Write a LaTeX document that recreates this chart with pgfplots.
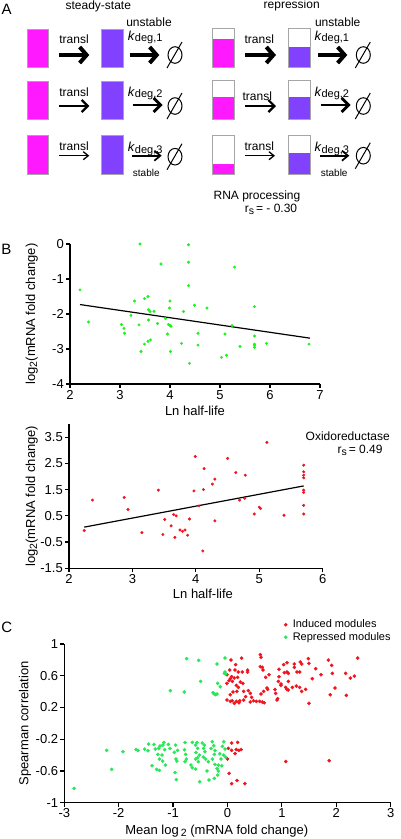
\documentclass[border=0pt]{standalone}
\usepackage{fontspec}
\setmainfont{Liberation Sans}
\usepackage{pgfplots}
\pgfplotsset{compat=1.18}
\usetikzlibrary{arrows.meta}
\definecolor{mag}{RGB}{255,25,255}
\definecolor{pur}{RGB}{130,65,255}
\definecolor{gB}{RGB}{25,245,25}
\definecolor{gC}{RGB}{40,232,90}
\definecolor{rr}{RGB}{240,20,30}
\pgfplotsset{prism/.style={
  scale only axis, axis lines=left, axis line style={-,line width=1.2pt},
  tick align=outside, major tick length=4pt, tick style={black,line width=1.2pt},
  tick label style={font=\fontsize{13}{14}\selectfont, inner sep=2pt},
  clip=false,
}}
\newcommand{\sub}[1]{\raisebox{-2pt}{\fontsize{10.5}{11}\selectfont #1}}
\newcommand{\rbox}[6]{\fill[#6] (#1,#5) rectangle (#2,#4);\draw[gray!70,line width=0.6pt] (#1,#3) rectangle (#2,#4);}
\newcommand{\emptys}[2]{\draw[line width=1pt] (#1,#2) ellipse (7 and 8.3);\draw[line width=1pt] (#1-8,#2+13) -- (#1+7,#2-13);}
\newcommand{\kdeg}[1]{\fontsize{13}{13}\selectfont\textit{k}\raisebox{-1.5pt}{\fontsize{11}{11}\selectfont deg,#1}}
\begin{document}
\begin{tikzpicture}
\useasboundingbox (0pt,0pt) rectangle (401pt,-839pt);
\begin{scope}[x=1pt,y=-1pt,font=\fontsize{12}{13}\selectfont]
\tikzset{
 aA/.style={line width=4pt,-{Straight Barb[length=7pt,width=16pt]}},
 aB/.style={line width=2.2pt,-{Straight Barb[length=6pt,width=12pt]}},
 aC/.style={line width=1.3pt,-{Straight Barb[length=5pt,width=8pt]}},
 aD/.style={line width=2.8pt,-{Straight Barb[length=7pt,width=14pt]}},
 aE/.style={line width=1.7pt,-{Straight Barb[length=6pt,width=10pt]}},
}
\node[font=\fontsize{15}{15}\selectfont] at (6.7,9.7) {A};
\node[font=\fontsize{15}{15}\selectfont] at (6.3,249.3) {B};
\node[font=\fontsize{15}{15}\selectfont] at (6.7,627.3) {C};
\node[anchor=base] at (98.3,9.5) {steady-state};
\node[anchor=base,text height=6.5pt,inner ysep=0pt] at (291.7,8.5) {repression};
% steady-state boxes
\rbox{27.3}{48.7}{29}{67.7}{29}{mag}
\rbox{27.3}{48.7}{81}{119.3}{81}{mag}
\rbox{27.3}{48.7}{135.7}{174.3}{135.7}{mag}
\rbox{101.7}{123.3}{29}{67.7}{29}{pur}
\rbox{101.7}{123.3}{81}{119.3}{81}{pur}
\rbox{101.7}{123.3}{135.7}{174.3}{135.7}{pur}
% repression boxes
\rbox{212.7}{234.3}{28.3}{67.7}{39.3}{mag}
\rbox{212.7}{234.3}{80}{119}{97.3}{mag}
\rbox{212.7}{234.3}{135}{174.3}{164}{mag}
\rbox{288.3}{310}{28.3}{67.7}{46.7}{pur}
\rbox{288.3}{310}{80}{119}{97.3}{pur}
\rbox{288.3}{310}{135}{174.3}{153.3}{pur}
% transl arrows
\draw[aA] (59.3,55) -- (89.3,55);
\draw[aB] (59.3,106) -- (89.3,106);
\draw[aC] (59.3,155.7) -- (89.3,155.7);
\draw[aA] (245,55) -- (276,55);
\draw[aB] (245,106) -- (276,106);
\draw[aC] (245,155.7) -- (275,155.7);
\node[anchor=base] at (74,43.3) {transl};
\node[anchor=base] at (74,96.7) {transl};
\node[anchor=base] at (74,150.7) {transl};
\node[anchor=base] at (259.3,43.3) {transl};
\node[anchor=base] at (257.3,100) {transl};
\node[anchor=base] at (259.3,150.7) {transl};
% degradation arrows
\draw[aA] (130,55) -- (159.3,55);
\draw[aD] (132.7,105) -- (162.7,105);
\draw[aE] (132,155.7) -- (161.7,155.7);
\draw[aA] (318.3,55) -- (347.3,55);
\draw[aD] (320.7,105) -- (350.7,105);
\draw[aE] (320,155.7) -- (349.3,155.7);
\node[anchor=base] at (149,26) {unstable};
\node[anchor=base] at (337.7,26) {unstable};
\node[anchor=base west,inner sep=0pt] at (127.7,40) {\kdeg{1}};
\node[anchor=base west,inner sep=0pt] at (127.7,96) {\kdeg{2}};
\node[anchor=base west,inner sep=0pt] at (127.7,151.7) {\kdeg{3}};
\node[anchor=base west,inner sep=0pt] at (314.3,40) {\kdeg{1}};
\node[anchor=base west,inner sep=0pt] at (314.3,96) {\kdeg{2}};
\node[anchor=base west,inner sep=0pt] at (314.3,151.7) {\kdeg{3}};
\node[anchor=base,font=\fontsize{10}{11}\selectfont] at (146.3,176.7) {stable};
\node[anchor=base,font=\fontsize{10}{11}\selectfont] at (334.2,176.7) {stable};
\emptys{175}{55}
\emptys{175}{106}
\emptys{175}{156.7}
\emptys{363.3}{55}
\emptys{363.3}{106}
\emptys{363.3}{155.7}
\node[anchor=base] at (257,199) {RNA processing};
\node[anchor=base] at (271,212.7) {r\sub{s}\,= - 0.30};
\node[anchor=base] at (347.7,440) {Oxidoreductase};
\node[anchor=base] at (360,453.3) {r\sub{s}\,= 0.49};
\end{scope}

% ---------- B1 ----------
\begin{axis}[prism, at={(70pt,-384pt)}, anchor=south west,
  width=250pt, height=140pt, xmin=2, xmax=7, ymin=-4, ymax=0,
  xtick={2,3,4,5,6,7}, xticklabels={2,3,4,5,6,7},
  ytick={-4,-3,-2,-1,0}, yticklabels={-4,-3,-2,-1,0},
  xlabel={Ln half-life}, ylabel={log\sub{2}(mRNA fold change)},
  every axis x label/.style={at={(axis description cs:0.5,-0.193)},anchor=center,font=\fontsize{13}{14}\selectfont},
  every axis y label/.style={at={(axis description cs:-0.153,0.5)},anchor=center,rotate=90,font=\fontsize{13}{14}\selectfont},
]
\addplot[only marks, mark=*, mark size=1.3pt, color=gB] coordinates {
(2.2,-1.31)(2.37,-2.23)(3.03,-2.30)(3.08,-2.41)(3.09,-2.55)(3.22,-2.04)(3.29,-1.63)
(3.38,-2.31)(3.42,-3.07)(3.49,-2.86)(3.49,-1.56)(3.56,-1.50)(3.56,-2.78)(3.57,-2.17)
(3.57,-1.88)(3.60,-1.93)(3.61,-2.74)(3.68,-1.92)(3.75,-2.27)(3.82,-0.57)(3.91,-2.13)
(3.95,-2.57)(3.97,-2.30)(4.0,-1.63)(3.99,-1.83)(4.0,-2.33)(4.01,-3.07)(4.02,-2.35)
(4.23,-2.84)(4.27,-1.93)(4.37,-0.52)(4.37,-1.19)(4.39,-3.41)(4.49,-1.75)(4.56,-2.55)
(4.56,-2.89)(4.74,-1.83)(5.03,-3.24)(5.13,-3.18)(5.10,-2.57)(5.24,-2.33)(5.29,-0.66)
(5.40,-2.93)(5.69,-1.79)(5.69,-2.63)(5.69,-2.86)(5.69,-2.89)(5.69,-2.95)(5.93,-2.84)
(6.78,-2.86)(3.40,0.0)(4.37,-0.02)
};
\addplot[black, line width=1.2pt] coordinates {(2.2,-1.73)(6.8,-2.69)};
\end{axis}

% ---------- B2 ----------
\begin{axis}[prism, at={(69pt,-568.3pt)}, anchor=south west,
  width=253.7pt, height=144.3pt, xmin=2, xmax=6, ymin=-1.5, ymax=4,
  xtick={2,3,4,5,6}, xticklabels={2,3,4,5,6},
  ytick={-1.5,-0.5,0.5,1.5,2.5,3.5}, yticklabels={-1.5,-0.5,0.5,1.5,2.5,3.5},
  xlabel={Ln half-life}, ylabel={log\sub{2}(mRNA fold change)},
  every axis x label/.style={at={(axis description cs:0.528,-0.178)},anchor=center,font=\fontsize{13}{14}\selectfont},
  every axis y label/.style={at={(axis description cs:-0.147,0.5)},anchor=center,rotate=90,font=\fontsize{13}{14}\selectfont},
]
\addplot[only marks, mark=*, mark size=1.3pt, color=rr] coordinates {
(2.24,-0.06)(2.37,1.10)(2.87,1.20)(2.93,0.74)(3.15,-0.14)(3.41,1.48)(3.48,-0.21)
(3.51,0.36)(3.61,0.12)(3.65,0.55)(3.67,-0.32)(3.69,0.50)(3.75,-0.04)(3.79,-0.09)
(3.83,-0.04)(3.87,-0.24)(3.90,0.38)(3.97,1.45)(3.99,2.76)(4.05,0.88)(4.11,-0.84)
(4.12,1.50)(4.13,2.30)(4.26,1.71)(4.30,1.90)(4.30,0.31)(4.50,2.69)(4.63,2.15)
(4.69,1.10)(4.77,1.17)(4.78,2.05)(4.92,0.57)(5.00,0.83)(5.02,0.78)(5.12,3.30)
(5.39,0.52)(5.70,2.43)(5.70,2.18)(5.70,2.05)(5.70,1.95)(5.70,1.48)(5.70,1.39)
(5.70,0.90)(5.70,0.57)
};
\addplot[black, line width=1.2pt] coordinates {(2.24,0.07)(5.70,1.64)};
\end{axis}

% ---------- C ----------
\begin{axis}[prism, at={(64.3pt,-802.7pt)}, anchor=south west,
  width=326.4pt, height=158.7pt, xmin=-3, xmax=3, ymin=-1, ymax=1,
  xtick={-3,-2,-1,0,1,2,3}, xticklabels={-3,-2,-1,0,1,2,3},
  ytick={-1,-0.6,-0.2,0.2,0.6,1}, yticklabels={-1,-0.6,-0.2,0.2,0.6,1},
  xlabel={Mean log\,\sub{2} (mRNA fold change)}, ylabel={Spearman correlation},
  every axis x label/.style={at={(axis description cs:0.467,-0.176)},anchor=center,font=\fontsize{13}{14}\selectfont},
  every axis y label/.style={at={(axis description cs:-0.12,0.5)},anchor=center,rotate=90,font=\fontsize{13}{14}\selectfont},
  legend style={draw=none, fill=none, at={(axis description cs:0.673,1.165)}, anchor=north west,
    font=\fontsize{11}{12}\selectfont, row sep=-1pt, inner sep=0pt, nodes={inner xsep=2pt}},
  legend cell align=left,
  legend image code/.code={\draw[#1] plot coordinates {(0pt,0pt)}; \path[draw=none,fill=none] (-1.6pt,-1pt) rectangle (5pt,1pt);},
]
\addplot[only marks, mark=*, mark size=1.6pt, color=rr] coordinates {
(0.064,0.798)(0.26,0.823)(0.15,0.74)(0.04,0.672)(0.137,0.672)(0.199,0.647)(0.272,0.647)
(0.37,0.672)(0.37,0.647)(-0.01,0.613)(0.076,0.588)(0.125,0.571)(0.052,0.563)(0.187,0.58)
(0.027,0.538)(0.088,0.529)(0.236,0.521)(0.284,0.504)(-0.01,0.504)(0.162,0.479)(0.199,0.453)
(0.383,0.412)(0.101,0.395)(0.174,0.403)(0.297,0.403)(0.42,0.378)(0.052,0.361)(0.333,0.336)
(0.444,0.327)(-0.01,0.294)(0.052,0.277)(0.088,0.285)(0.162,0.277)(0.224,0.285)(0.297,0.294)
(0.125,0.252)(0.211,0.26)(0.42,0.269)(0.48,0.285)
(0.604,0.866)(0.616,0.832)(0.604,0.714)(0.64,0.706)(0.653,0.672)(0.763,0.613)(0.702,0.58)
(0.947,0.681)(1.032,0.74)(1.094,0.765)(1.045,0.639)(1.094,0.647)(1.118,0.63)(0.947,0.588)
(0.934,0.529)(0.983,0.496)(1.118,0.529)(1.229,0.748)(1.229,0.706)(1.339,0.773)(1.364,0.748)
(1.278,0.647)(1.327,0.647)(1.486,0.815)(1.498,0.756)(1.621,0.689)(1.559,0.563)(1.719,0.613)
(1.854,0.798)(1.915,0.731)(1.927,0.63)(2.172,0.63)(2.258,0.571)(2.332,0.596)(2.393,0.823)
(1.976,0.445)(1.89,0.361)(2.184,0.353)(1.498,0.252)(0.726,0.445)(0.738,0.428)(0.665,0.403)
(0.616,0.37)(0.591,0.277)(0.53,0.277)(0.64,0.269)(0.677,0.26)(0.922,0.311)(0.983,0.479)
(1.069,0.453)(1.094,0.428)(1.118,0.42)(1.192,0.453)(1.265,0.47)(1.327,0.453)(1.364,0.403)
(1.437,0.428)(0.873,0.428)(0.886,0.378)(0.91,0.294)
(0.077,-0.248)(0.187,-0.24)(0.015,-0.315)(0.077,-0.34)(0.16,-0.33)(0.21,-0.34)(0.25,-0.33)
(0.14,-0.38)(0.0,-0.45)(0.03,-0.63)(0.175,-0.72)(0.077,-0.76)(0.32,-0.76)(1.07,-0.48)(1.87,-0.47)
};
\addlegendentry{Induced modules}
\addplot[only marks, mark=*, mark size=1.6pt, color=gC] coordinates {
(-0.751,0.815)(-0.53,0.794)(-0.193,0.748)(-0.046,0.823)(-0.494,0.529)(-1.051,0.412)
(-0.794,0.395)(-0.181,0.504)(-0.132,0.462)(-0.267,0.386)(-0.242,0.37)(-0.218,0.361)
(-0.193,0.37)(-0.046,0.647)(-0.034,0.622)(-0.058,0.63)
(-2.82,-0.82)(-2.221,-0.341)(-2.129,-0.58)(-1.921,-0.358)(-1.682,-0.328)(-1.645,-0.341)
(-1.523,-0.324)(-1.449,-0.261)(-1.461,-0.345)(-1.351,-0.265)(-1.327,-0.324)(-1.241,-0.286)
(-1.265,-0.316)(-1.186,-0.274)(-1.155,-0.332)(-1.168,-0.24)(-1.278,-0.391)(-1.204,-0.40)
(-1.253,-0.45)(-1.192,-0.475)(-1.388,-0.534)(-1.302,-0.58)(-1.253,-0.593)(-1.143,-0.526)
(-1.088,-0.265)(-1.057,-0.316)(-0.953,-0.274)(-0.916,-0.341)(-0.977,-0.366)(-0.947,-0.45)
(-0.93,-0.475)(-0.965,-0.618)(-0.94,-0.71)(-0.781,-0.24)(-0.79,-0.333)(-0.769,-0.391)
(-0.757,-0.45)(-0.781,-0.484)(-0.647,-0.24)(-0.585,-0.274)(-0.561,-0.24)(-0.549,-0.316)
(-0.579,-0.366)(-0.518,-0.40)(-0.549,-0.433)(-0.585,-0.45)(-0.536,-0.484)(-0.671,-0.526)
(-0.647,-0.559)(-0.585,-0.576)(-0.512,-0.736)(-0.463,-0.248)(-0.426,-0.274)(-0.438,-0.316)
(-0.414,-0.358)(-0.444,-0.425)(-0.401,-0.45)(-0.377,-0.601)(-0.352,-0.484)(-0.34,-0.715)
(-0.303,-0.316)(-0.279,-0.232)(-0.254,-0.282)(-0.23,-0.341)(-0.242,-0.391)(-0.279,-0.45)
(-0.23,-0.517)(-0.193,-0.568)(-0.169,-0.526)(-0.181,-0.652)(-0.242,-0.694)(-0.144,-0.383)
(-0.12,-0.45)(-0.095,-0.29)(-0.07,-0.232)(-0.046,-0.324)(-0.07,-0.40)(-0.034,-0.425)
(-0.107,-0.534)(-0.169,-0.601)
};
\addlegendentry{Repressed modules}
\end{axis}
\end{tikzpicture}
\end{document}
